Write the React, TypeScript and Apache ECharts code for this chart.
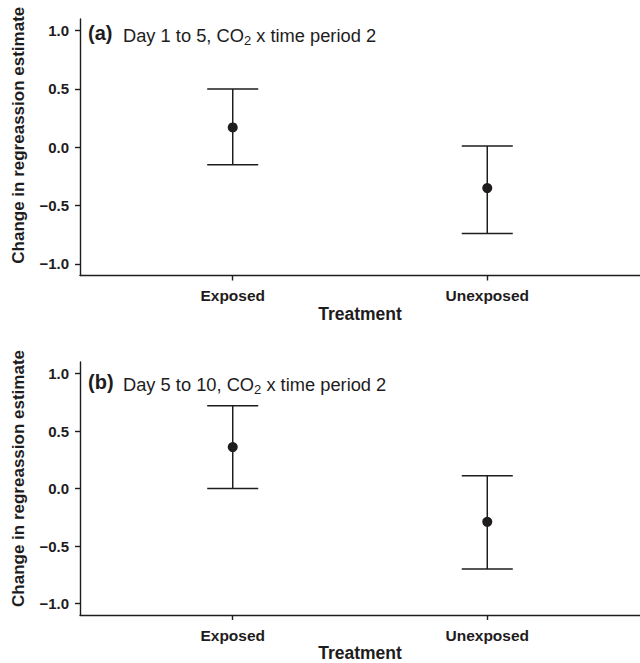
import React, { useEffect, useRef } from "react";
import * as echarts from "echarts";

const categories = ["Exposed", "Unexposed"];
const xPositions = [1, 2];
const yTicks = [-1, -0.5, 0, 0.5, 1];

const panelLabels = ["(a)", "(b)"];
const panelTitlesPre = ["Day 1 to 5, CO", "Day 5 to 10, CO"];
const panelTitlesPost = [" x time period 2", " x time period 2"];

const meanA = [0.17, -0.35];
const lowerA = [-0.15, -0.74];
const upperA = [0.5, 0.01];

const meanB = [0.36, -0.29];
const lowerB = [0.0, -0.7];
const upperB = [0.72, 0.11];

const INK = "#1e1c1d";
const FONT = "'Liberation Sans', Arial, Helvetica, sans-serif";

export default function App() {
  const ref = useRef<HTMLDivElement>(null);

  useEffect(() => {
    document.body.style.margin = "0";
    if (!ref.current) return;
    const chart = echarts.init(ref.current, null, { renderer: "svg" });

    const grids = [
      { left: 80, top: 19, width: 564, height: 256.5 },
      { left: 80, top: 362, width: 564, height: 257 },
    ];

    const fmtY = (v: number) =>
      v < 0 ? "\u2212" + Math.abs(v).toFixed(1) : v.toFixed(1);

    const xAxes = grids.map((_, i) => ({
      type: "value",
      gridIndex: i,
      min: 0.4,
      max: 2.6,
      name: "Treatment",
      nameLocation: "middle",
      nameGap: 29,
      nameTextStyle: { fontFamily: FONT, fontWeight: "bold", fontSize: 17.5, color: INK },
      splitLine: { show: false },
      axisLine: { show: true, onZero: false, lineStyle: { color: INK, width: 1.4 } },
      axisTick: { show: true, customValues: xPositions, length: 5, lineStyle: { color: INK, width: 1.4 } },
      axisLabel: {
        customValues: xPositions,
        margin: 12,
        fontFamily: FONT,
        fontWeight: "bold",
        fontSize: 15.5,
        color: INK,
        formatter: (v: number) => categories[xPositions.indexOf(v)] ?? "",
      },
    }));

    const yAxes = grids.map((_, i) => ({
      type: "value",
      gridIndex: i,
      min: -1.1,
      max: 1.1,
      splitLine: { show: false },
      axisLine: { show: true, onZero: false, lineStyle: { color: INK, width: 1.4 } },
      axisTick: { show: true, customValues: yTicks, length: 5, lineStyle: { color: INK, width: 1.4 } },
      axisLabel: {
        customValues: yTicks,
        margin: 11,
        fontFamily: FONT,
        fontWeight: "bold",
        fontSize: 15,
        color: INK,
        formatter: fmtY,
      },
    }));

    const panels = [
      { mean: meanA, lower: lowerA, upper: upperA },
      { mean: meanB, lower: lowerB, upper: upperB },
    ];

    const series: any[] = [];
    panels.forEach((p, i) => {
      series.push({
        type: "custom",
        xAxisIndex: i,
        yAxisIndex: i,
        encode: { x: 0, y: [1, 2] },
        data: xPositions.map((x, k) => [x, p.lower[k], p.upper[k]]),
        renderItem: (params: any, api: any) => {
          const x = api.value(0);
          const lo = api.coord([x, api.value(1)]);
          const hi = api.coord([x, api.value(2)]);
          const hw = 25.5;
          const style = { stroke: INK, lineWidth: 1.5 };
          return {
            type: "group",
            children: [
              { type: "line", shape: { x1: lo[0], y1: lo[1], x2: hi[0], y2: hi[1] }, style },
              { type: "line", shape: { x1: lo[0] - hw, y1: lo[1], x2: lo[0] + hw, y2: lo[1] }, style },
              { type: "line", shape: { x1: hi[0] - hw, y1: hi[1], x2: hi[0] + hw, y2: hi[1] }, style },
            ],
          };
        },
        z: 2,
      });
      series.push({
        type: "scatter",
        xAxisIndex: i,
        yAxisIndex: i,
        symbol: "circle",
        symbolSize: 10,
        itemStyle: { color: INK, opacity: 1 },
        data: xPositions.map((x, k) => [x, p.mean[k]]),
        z: 3,
      });
    });

    const graphic: any[] = [];
    grids.forEach((g, i) => {
      const axisCenter = g.top + g.height / 2;
      graphic.push({
        type: "text",
        x: 18,
        y: axisCenter - 12,
        rotation: Math.PI / 2,
        style: {
          text: "Change in regreassion estimate",
          fontFamily: FONT,
          fontWeight: "bold",
          fontSize: 17,
          fill: INK,
          align: "center",
          verticalAlign: "middle",
        },
      });
      const titleY = i === 0 ? 33 : 382;
      graphic.push({
        type: "text",
        x: 88,
        y: titleY,
        style: {
          text: panelLabels[i],
          fontFamily: FONT,
          fontWeight: "bold",
          fontSize: 20,
          fill: INK,
          align: "left",
          verticalAlign: "middle",
        },
      });
      graphic.push({
        type: "text",
        x: 123,
        y: titleY + 2,
        style: {
          text: "{t|" + panelTitlesPre[i] + "}{s|2}{t|" + panelTitlesPost[i] + "}",
          fill: INK,
          align: "left",
          verticalAlign: "middle",
          rich: {
            t: { fontFamily: FONT, fontSize: 18.3, lineHeight: 24, fill: INK, verticalAlign: "middle" },
            s: { fontFamily: FONT, fontSize: 13, lineHeight: 13, fill: INK, verticalAlign: "bottom" },
          },
        },
      });
    });

    chart.setOption({
      animation: false,
      backgroundColor: "#ffffff",
      grid: grids,
      xAxis: xAxes,
      yAxis: yAxes,
      series,
      graphic,
    });

    return () => chart.dispose();
  }, []);

  return <div ref={ref} style={{ width: 640, height: 663 }} />;
}
